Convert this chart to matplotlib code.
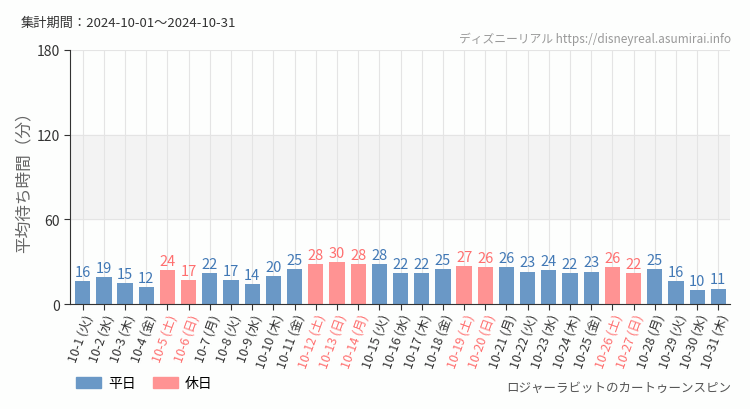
import matplotlib
matplotlib.use('Agg')
import matplotlib.pyplot as plt
from matplotlib.patches import Patch

plt.rcParams['font.family'] = ['Noto Sans CJK JP', 'DejaVu Sans']

dates = ['10-%d' % d for d in range(1, 32)]
weekdays = ['火', '水', '木', '金', '土', '日', '月',
            '火', '水', '木', '金', '土', '日', '月',
            '火', '水', '木', '金', '土', '日', '月',
            '火', '水', '木', '金', '土', '日', '月',
            '火', '水', '木']
wait = [16, 19, 15, 12, 24, 17, 22, 17, 14, 20, 25, 28, 30, 28, 28, 22,
        22, 25, 27, 26, 26, 23, 24, 22, 23, 26, 22, 25, 16, 10, 11]
holiday = [False, False, False, False, True, True, False,
           False, False, False, False, True, True, True,
           False, False, False, False, True, True, False,
           False, False, False, False, True, True, False,
           False, False, False]

blue = '#6a98c6'
pink = '#ff9393'
blue_txt = '#4178b5'
pink_txt = '#ff6f6f'

fig = plt.figure(figsize=(7.5, 4.1), dpi=100)
fig.patch.set_facecolor('#fdfefd')
ax = fig.add_axes([0.0933, 0.256, 0.88, 0.62])
ax.set_facecolor('#fdfefd')

x = list(range(len(wait)))
colors = [pink if h else blue for h in holiday]
ax.axhspan(60, 120, color='#f3f3f3', zorder=0)
for xi in x:
    ax.axvline(xi, color='#e4e4e4', lw=0.8, zorder=0.5)
for yv in [60, 120, 180]:
    ax.axhline(yv, color='#e4e4e4', lw=0.8, zorder=0.5)
ax.bar(x, wait, width=0.72, color=colors, zorder=2)
for xi, v, h in zip(x, wait, holiday):
    ax.text(xi, v + 1.5, str(v), ha='center', va='bottom', fontsize=10.5,
            color=pink_txt if h else blue_txt, zorder=3)

ax.set_xlim(-0.6, len(wait) - 0.45)
ax.set_ylim(0, 180)
ax.set_yticks([0, 60, 120, 180])
ax.tick_params(axis='y', labelsize=10, colors='#333333', length=4)
ax.tick_params(axis='x', length=4, colors='#333333', pad=2)
ax.set_xticks(x)
ax.set_xticklabels(['%s (%s)' % (d, w) for d, w in zip(dates, weekdays)],
                   rotation=70, ha='right', rotation_mode='anchor', fontsize=9)
for lbl, h in zip(ax.get_xticklabels(), holiday):
    lbl.set_color(pink_txt if h else '#333333')
for s in ['top', 'right']:
    ax.spines[s].set_visible(False)
for s in ['left', 'bottom']:
    ax.spines[s].set_color('#333333')
ax.set_ylabel('平均待ち時間（分）', fontsize=12, color='#666666', labelpad=3)

fig.text(0.027, 0.935, '集計期間：2024-10-01～2024-10-31', fontsize=9.5, color='#333333')
fig.text(0.975, 0.895, 'ディズニーリアル https://disneyreal.asumirai.info', fontsize=8.5,
         color='#999999', ha='right')
fig.text(0.975, 0.045, 'ロジャーラビットのカートゥーンスピン', fontsize=9,
         color='#555555', ha='right')
fig.legend(handles=[Patch(color=blue, label='平日'), Patch(color=pink, label='休日')],
           loc='lower left', bbox_to_anchor=(0.085, 0.015), ncol=2, frameon=False,
           fontsize=10, handlelength=1.8, handleheight=0.9, columnspacing=1.2,
           handletextpad=0.5)

fig.savefig('out.png', dpi=100, facecolor=fig.get_facecolor())
